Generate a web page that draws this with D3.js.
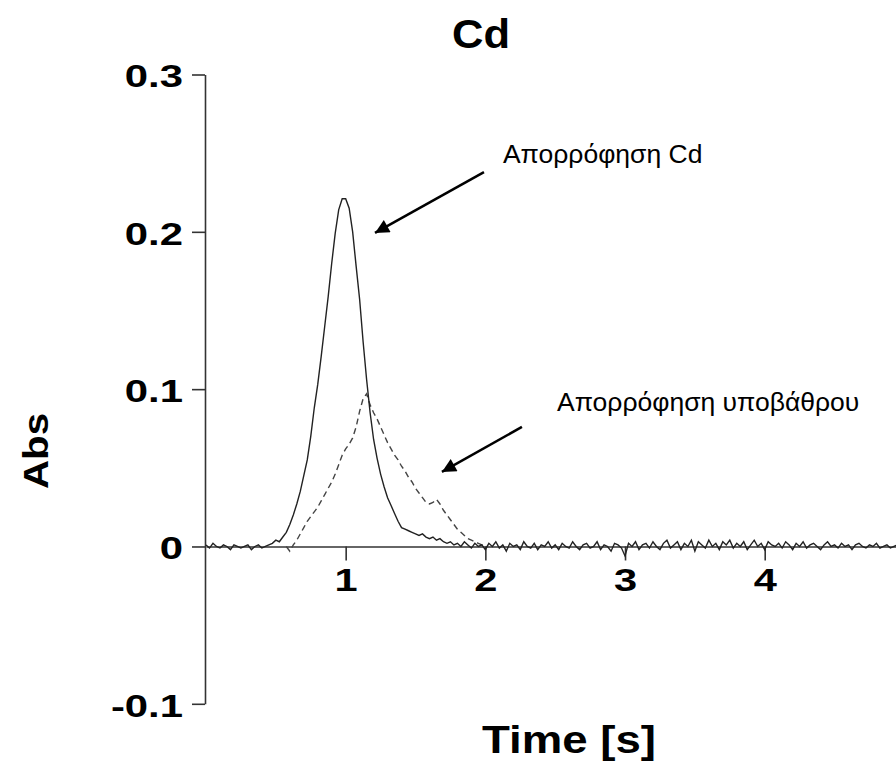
<!DOCTYPE html>
<html>
<head>
<meta charset="utf-8">
<script src="https://cdn.jsdelivr.net/npm/d3@7"></script>
<style>
  html, body { margin: 0; padding: 0; background: #fff; }
  svg { display: block; }
  text { font-family: "Liberation Sans", Arial, sans-serif; }
</style>
</head>
<body>
<svg id="chart" width="896" height="763"></svg>
<script>
// ---------------- DATA ----------------
const titleText = "Cd";
const xLabelText = "Time [s]";
const yLabelText = "Abs";

const xTickValues = [1, 2, 3, 4];
const xTickLabels = ["1", "2", "3", "4"];
const yTickValues = [-0.1, 0, 0.1, 0.2, 0.3];
const yTickLabels = ["-0.1", "0", "0.1", "0.2", "0.3"];

const sampleStep = 0.025;      // s between samples
const cdStart = 0.0;           // first sample time of Cd signal
const bgStart = 0.575;         // first sample time of background signal

// Cd absorption (solid line), Abs
const cdValues = [
  0.001,-0.001,0.002,0.000,-0.001,0.001,0.000,-0.002,0.001,0.000,-0.001,0.000,0.001,-0.002,0.000,0.001,-0.001,0.000,0.001,0.002,
  0.004,0.003,0.006,0.009,0.014,0.020,0.027,0.035,0.045,0.055,0.070,0.088,0.103,0.121,0.140,0.159,0.180,0.199,0.214,0.221,
  0.221,0.215,0.200,0.178,0.157,0.130,0.106,0.085,0.068,0.056,0.046,0.038,0.031,0.026,0.021,0.016,0.012,0.011,0.010,0.009,
  0.008,0.007,0.008,0.006,0.005,0.006,0.004,0.005,0.003,0.002,0.003,0.001,0.002,0.000,0.003,0.001,-0.001,0.002,0.000,0.001,
  -0.002,0.002,0.000,0.003,-0.001,0.001,-0.003,0.002,0.000,0.001,-0.002,0.003,0.000,-0.001,0.002,-0.002,0.001,0.000,0.003,-0.001,
  0.001,-0.002,0.002,0.000,-0.001,0.003,0.000,-0.002,0.001,0.002,-0.001,0.000,0.003,-0.002,0.001,0.000,-0.003,0.002,0.001,-0.001,
  -0.006,0.002,0.000,0.003,-0.002,0.001,0.002,-0.001,0.003,0.000,-0.002,0.002,0.004,-0.001,0.001,0.003,-0.002,0.002,0.000,0.004,
  -0.003,0.003,0.001,-0.001,0.004,0.000,0.002,-0.002,0.003,0.001,0.004,-0.001,0.002,0.000,0.003,-0.002,0.001,0.004,0.000,0.002,
  -0.002,0.003,0.001,0.000,0.002,-0.001,0.003,0.001,-0.002,0.002,0.000,0.003,-0.001,0.001,0.002,0.000,-0.002,0.001,0.003,0.000,
  0.001,-0.001,0.002,0.000,0.001,-0.002,0.001,0.002,0.000,-0.001,0.001,0.000,0.002,-0.001,0.000,0.001,-0.001,0.000,0.001
];

// Background absorption (dashed line), Abs
const bgValues = [
  0.000,-0.003,0.001,0.004,0.008,0.012,0.016,0.019,0.022,0.025,0.029,0.033,0.037,0.041,0.046,0.052,0.058,0.062,0.065,0.069,
  0.076,0.086,0.094,0.097,0.090,0.085,0.081,0.076,0.071,0.066,0.062,0.058,0.055,0.051,0.048,0.044,0.041,0.037,0.034,0.031,
  0.028,0.027,0.028,0.030,0.027,0.023,0.020,0.017,0.014,0.011,0.009,0.007,0.005,0.004,0.003,0.002,0.001,0.000
];

// Annotations (data coordinates: time, abs)
const annoLabels = ["Απορρόφηση Cd", "Απορρόφηση υποβάθρου"];
const annoTextPos = [[2.126, 0.2438], [2.513, 0.0861]];
const annoArrowFrom = [[1.99, 0.238], [2.262, 0.076]];
const annoArrowTo = [[1.21, 0.1993], [1.689, 0.0474]];

// ---------------- CHART ----------------
const svg = d3.select("#chart");

const x = d3.scaleLinear().domain([0, 4.94]).range([206, 896]);
const y = d3.scaleLinear().domain([-0.1, 0.3]).range([703.8, 74.5]);

const cdData = cdValues.map((v, i) => ({ t: cdStart + i * sampleStep, v }));
const bgData = bgValues.map((v, i) => ({ t: bgStart + i * sampleStep, v }));

const line = d3.line().x(d => x(d.t)).y(d => y(d.v));

// Y axis
const yTickLen = 13, yPad = 9;
const yAxis = d3.axisLeft(y)
  .tickValues(yTickValues)
  .tickFormat((d, i) => yTickLabels[i])
  .tickSize(yTickLen).tickSizeOuter(0).tickPadding(yPad);
const gy = svg.append("g").attr("transform", `translate(${x(0) - 1},0)`).call(yAxis);
gy.select(".domain").attr("stroke", "#333").attr("stroke-width", 1.6);
gy.selectAll(".tick line").attr("stroke", "#333").attr("stroke-width", 1.6);
gy.selectAll(".tick text")
  .attr("font-size", 31).attr("font-weight", "bold").attr("fill", "#000")
  .attr("x", 0).attr("dy", "0.40em")
  .attr("transform", `translate(${-(yTickLen + yPad)},0) scale(1.35,1)`);

// X axis at y=0
const xAxis = d3.axisBottom(x)
  .tickValues(xTickValues)
  .tickFormat((d, i) => xTickLabels[i])
  .tickSize(14).tickSizeOuter(0).tickPadding(8);
const gx = svg.append("g").attr("transform", `translate(0,${y(0)})`).call(xAxis);
gx.select(".domain").attr("stroke", "#333").attr("stroke-width", 1.6);
gx.selectAll(".tick line").attr("stroke", "#333").attr("stroke-width", 1.6);
gx.selectAll(".tick text")
  .attr("font-size", 32).attr("font-weight", "bold").attr("fill", "#000")
  .attr("transform", "scale(1.3,1)");

// Lines
svg.append("path").datum(bgData)
  .attr("d", line).attr("fill", "none")
  .attr("stroke", "#444").attr("stroke-width", 1.4)
  .attr("stroke-dasharray", "6,4");
svg.append("path").datum(cdData)
  .attr("d", line).attr("fill", "none")
  .attr("stroke", "#222").attr("stroke-width", 1.4);

// Title and axis labels
svg.append("text").text(titleText)
  .attr("transform", "translate(481,48) scale(1.09,1)")
  .attr("text-anchor", "middle")
  .attr("font-size", 40).attr("font-weight", "bold").attr("fill", "#000");

svg.append("text").text(xLabelText)
  .attr("transform", "translate(482,753) scale(1.2,1)")
  .attr("text-anchor", "start")
  .attr("font-size", 38).attr("font-weight", "bold").attr("fill", "#000");

svg.append("text").text(yLabelText)
  .attr("transform", "translate(48,451) rotate(-90) scale(1.15,1)")
  .attr("text-anchor", "middle")
  .attr("font-size", 35).attr("font-weight", "bold").attr("fill", "#000");

// Annotations
const defs = svg.append("defs");
defs.append("marker").attr("id", "arrowhead")
  .attr("viewBox", "0 0 10 10").attr("refX", 10).attr("refY", 5)
  .attr("markerUnits", "userSpaceOnUse")
  .attr("markerWidth", 19).attr("markerHeight", 14)
  .attr("orient", "auto")
  .append("path").attr("d", "M0,0 L10,5 L0,10 Z").attr("fill", "#000");

annoLabels.forEach((lab, i) => {
  svg.append("line")
    .attr("x1", x(annoArrowFrom[i][0])).attr("y1", y(annoArrowFrom[i][1]))
    .attr("x2", x(annoArrowTo[i][0])).attr("y2", y(annoArrowTo[i][1]))
    .attr("stroke", "#000").attr("stroke-width", 2.5)
    .attr("marker-end", "url(#arrowhead)");
  svg.append("text").text(lab)
    .attr("x", x(annoTextPos[i][0])).attr("y", y(annoTextPos[i][1]))
    .attr("font-size", 26.5).attr("fill", "#000");
});
</script>
</body>
</html>
